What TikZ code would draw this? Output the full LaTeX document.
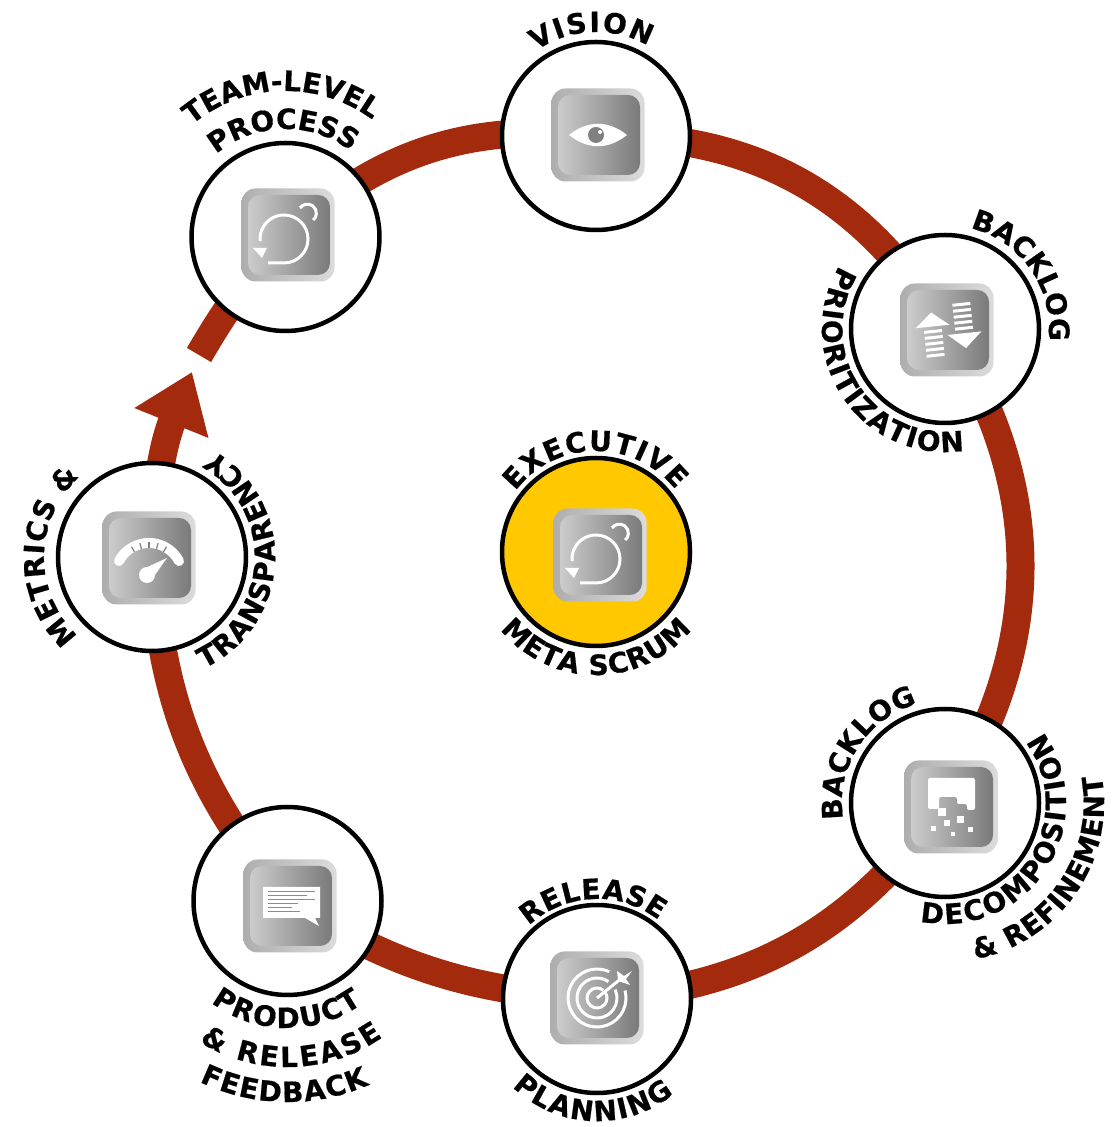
\documentclass[tikz,border=0pt]{standalone}
\usepackage{fontspec}
\setmainfont{DejaVu Sans}[BoldFeatures={FakeBold=0.6}]
\usepackage{xcolor}
\usepackage{tikz}
\usetikzlibrary{arrows.meta, backgrounds, decorations.text}

\definecolor{ringred}{HTML}{A32A0C}
\definecolor{metagold}{HTML}{FFC800}

\newcommand{\labelfont}{\fontsize{28}{32}\bfseries\selectfont}

% Text bent round a node: node, radius, start angle, end angle, text
\newcommand{\bentlabel}[5]{
    \path[bent={#5}] ([shift={(#3:#2)}]#1.center) arc[start angle=#3, end angle=#4, radius=#2];
}

\tikzset{
    bent/.style={decorate, decoration={text along path, text={|\labelfont|#1}, text align=fit to path}},
    iconbase/.pic={
        \node[iconframe] (-frame) at (0,0) {};
        \node[iconface] (-face) at (1,0) {};
    },
    loopicon/.pic={
        \pic (-base) {iconbase};
        \draw[glyphline] (-20,-28) -- (-4,-28) arc[start angle=-90, end angle=185, radius=24];
        \fill[white] (-35,-13) -- (-21,-13) -- (-26,-23) -- cycle;
        \draw[glyphline] (12,27) arc[start angle=145, end angle=-50, radius=9];
    },
    eyeicon/.pic={
        \pic (-base) {iconbase};
        \fill[white] (-29,0) .. controls (-10,15) and (10,15) .. (29,0) .. controls (10,-15) and (-10,-15) .. (-29,0) -- cycle;
        \fill[gray] (-2,0) circle[radius=8];
        \fill[white] (2,3) circle[radius=2];
    },
    sorticon/.pic={
        \pic (-base) {iconbase};
        \begin{scope}[rotate=6]
            \fill[white] (-14,19) -- (-31,5) -- (3,5) -- cycle;
            \fill[white] (17,-20) -- (0,-5) -- (34,-5) -- cycle;
            \foreach \y in {0,-6,-12,-18,-24}
                \draw[glyphline, line width=3pt] (-23,\y) -- (-5,\y);
            \foreach \y in {0,6,12,18,24}
                \draw[glyphline, line width=3pt] (8,\y) -- (26,\y);
        \end{scope}
    },
    crumbleicon/.pic={
        \pic (-base) {iconbase};
        \fill[white, rounded corners=2pt] (-23,29) -- (24,29) -- (24,-3) -- (16,-3) -- (16,3) -- (6,3) -- (6,10) -- (-12,10) -- (-12,-2) -- (-23,-2) -- cycle;
        \fill[white] (-13,-9) rectangle (-5,-1);
        \fill[white] (6,-16) rectangle (13,-9);
        \fill[white] (-7,-19) rectangle (-1,-13);
        \fill[white] (-20,-24) rectangle (-15,-19);
        \fill[white] (17,-25) rectangle (22,-20);
        \fill[white] (0,-29) rectangle (4,-25);
    },
    targeticon/.pic={
        \pic (-base) {iconbase};
        \draw[glyphline, line width=3pt] (65:29) arc[start angle=65, end angle=375, radius=29];
        \draw[glyphline, line width=3pt] (55:20) arc[start angle=55, end angle=385, radius=20];
        \draw[glyphline, line width=3pt] (50:10) arc[start angle=50, end angle=395, radius=10];
        \draw[glyphline] (0,0) -- (26,21);
        \fill[white] (21,17) -- (20,27) -- (27,22) -- (35,27) -- (29,19) -- (33,13) -- cycle;
    },
    chaticon/.pic={
        \pic (-base) {iconbase};
        \fill[white] (-27,19) -- (30,19) -- (30,-12) -- (25,-12) -- (29,-20) -- (15,-12) -- (-27,-12) -- cycle;
        \draw[chatrule] (-22,14.3) -- (25,14.3);
        \draw[chatrule] (-22,10.3) -- (17,10.3);
        \draw[chatrule] (-22,6.7) -- (25,6.7);
        \draw[chatrule] (-22,2.7) -- (8,2.7);
        \draw[chatrule] (-22,-1.3) -- (2,-1.3);
        \draw[chatrule] (-22,-5.7) -- (10,-5.7);
    },
    gaugeicon/.pic={
        \pic (-base) {iconbase};
        \draw[white, line width=10pt, line cap=round] (0,-19) ++(152:34) arc[start angle=152, end angle=28, radius=34];
        \foreach \a in {60,75,90,105,120}
            \draw[gray, line width=1.2pt] (0,-19) ++(\a:29) -- ++(\a:6);
        \fill[white] (-2,-17) circle[radius=8];
        \fill[white] (-6,-11) -- (18,0) -- (3,-21) -- cycle;
    }
}

\begin{document}
\begin{tikzpicture}[
    x=1pt, y=1pt,
    stagecircle/.style={circle, draw=black, line width=4.5pt, fill=white, minimum size=188pt, inner sep=0pt},
    metacircle/.style={stagecircle, fill=metagold},
    ringline/.style={draw=ringred, line width=28pt},
    iconframe/.style={draw=none, minimum size=93pt, inner sep=0pt, rounded corners=14pt, left color=black!32, right color=black!14},
    iconface/.style={draw=none, minimum width=82pt, minimum height=80pt, inner sep=0pt, rounded corners=12pt, left color=black!20, right color=black!52},
    glyphline/.style={draw=white, line width=3pt},
    chatrule/.style={draw=black!45, line width=1pt}
]
    \useasboundingbox (0,0) rectangle (1112,1127);

    % Stage circles
    \node[stagecircle] (vision) at (596,991) {};
    \node[stagecircle] (backlogprio) at (945,798) {};
    \node[stagecircle] (backlogref) at (945,324) {};
    \node[stagecircle] (release) at (597,128) {};
    \node[stagecircle] (feedback) at (287.5,226) {};
    \node[stagecircle] (metrics) at (152,570) {};
    \node[stagecircle] (teamlevel) at (285.5,890) {};

    % Executive circle
    \node[metacircle] (executive) at (596,575) {};

    % Free ends at the gap
    \coordinate (arrowtip) at (192,755);
    \coordinate (gapend) at (199,772);

    % Ring
    \begin{pgfonlayer}{background}
        \draw[ringline] (vision.center) to[bend left=30] (backlogprio.center);
        \draw[ringline] (backlogprio.center) to[bend left=33] (backlogref.center);
        \draw[ringline] (backlogref.center) to[bend left=25] (release.center);
        \draw[ringline] (release.center) to[bend left=14] (feedback.center);
        \draw[ringline] (feedback.center) to[bend left=18] (metrics.center);
        \draw[ringline, -{Triangle[length=55pt, width=76pt]}] (metrics.center) to[out=88, in=-112] (arrowtip);
        \draw[ringline] (gapend) to[bend left=6] (teamlevel.center);
        \draw[ringline] (teamlevel.center) to[bend left=24] (vision.center);
    \end{pgfonlayer}

    % Icons
    \pic (visionicon) at (598,992) {eyeicon};
    \pic (prioicon) at (947,797) {sorticon};
    \pic (reficon) at (951,320) {crumbleicon};
    \pic (releaseicon) at (597,129) {targeticon};
    \pic (feedbackicon) at (290,221) {chaticon};
    \pic (metricsicon) at (149,569) {gaugeicon};
    \pic (teamicon) at (288,892) {loopicon};
    \pic (execicon) at (600,572) {loopicon};

    % Labels
    \bentlabel{vision}{104}{125}{60}{VISION}
    \bentlabel{teamlevel}{146}{130}{54}{TEAM-LEVEL}
    \bentlabel{teamlevel}{108}{130}{53}{PROCESS}
    \bentlabel{backlogprio}{104}{76}{-2}{BACKLOG}
    \bentlabel{backlogprio}{123}{149}{279}{PRIORITIZATION}
    \bentlabel{backlogref}{103}{189}{108}{BACKLOG}
    \bentlabel{backlogref}{121}{258}{396}{DECOMPOSITION}
    \bentlabel{backlogref}{159}{281}{370}{{\&} REFINEMENT}
    \bentlabel{release}{100}{133}{52}{RELEASE}
    \bentlabel{release}{122}{226}{309}{PLANNING}
    \bentlabel{feedback}{127}{233}{306}{PRODUCT}
    \bentlabel{feedback}{166}{238}{305}{{\&} RELEASE}
    \bentlabel{feedback}{201}{244}{294}{FEEDBACK}
    \bentlabel{metrics}{108}{227}{132}{METRICS {\&}}
    \bentlabel{metrics}{123}{295}{420}{TRANSPARENCY}
    \bentlabel{executive}{101}{143}{38}{EXECUTIVE}
    \bentlabel{executive}{123}{219}{321}{META SCRUM}
\end{tikzpicture}
\end{document}
